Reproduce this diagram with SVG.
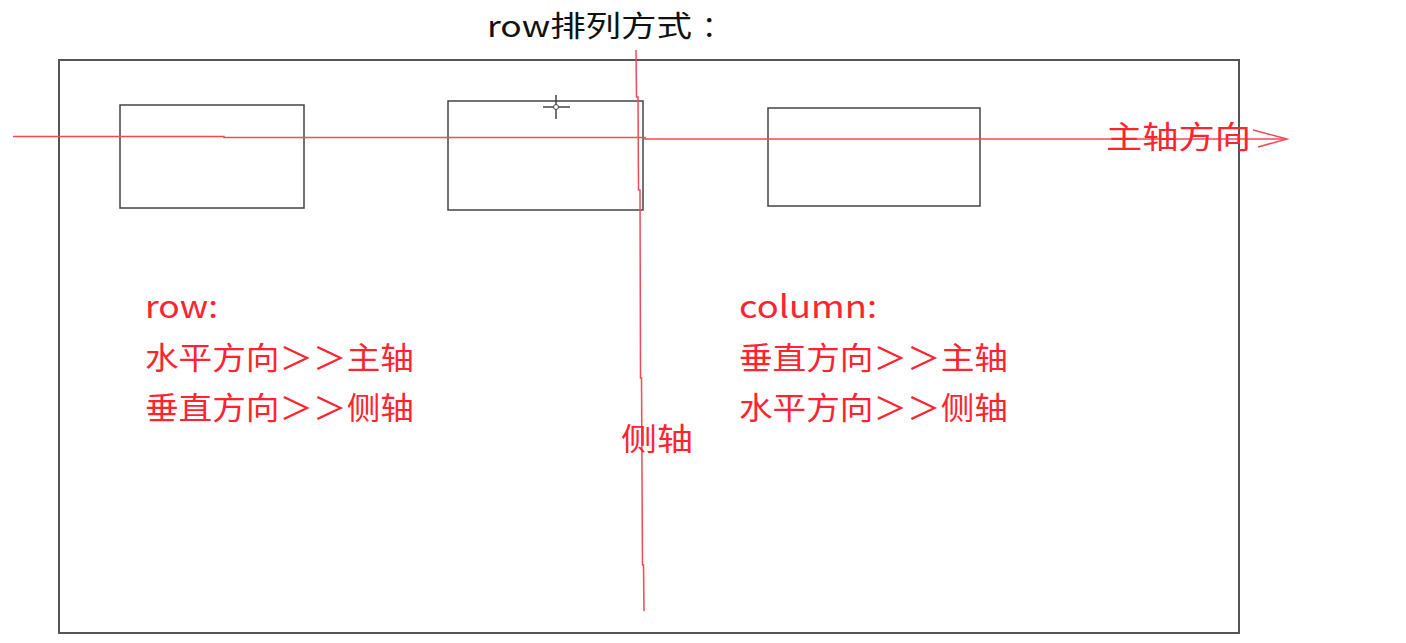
<svg xmlns="http://www.w3.org/2000/svg" width="1406" height="643" viewBox="0 0 1406 643">
  <style>
    .frame { fill: none; stroke: #555; stroke-width: 2; }
    .box { fill: none; stroke: #444; stroke-width: 1.5; }
    .axis { fill: none; stroke: #f24a55; stroke-width: 1.5; }
    .red { fill: #ff2430; font-family: "Noto Sans CJK SC", "Noto Sans", sans-serif; font-size: 31px; }
    .title { fill: #111; font-family: "Noto Sans CJK SC", "Noto Sans", sans-serif; font-size: 29px; }
    .cursor { fill: none; stroke: #444; stroke-width: 1.5; }
  </style>
  <rect x="0" y="0" width="1406" height="643" fill="#fff"/>

  <g id="title">
    <text class="title" y="37"><tspan x="487" textLength="205" lengthAdjust="spacingAndGlyphs">row排列方式</tspan><tspan x="702">：</tspan></text>
  </g>

  <g id="container">
    <rect class="frame" x="59" y="60" width="1180" height="573"/>
  </g>

  <g id="item1">
    <rect class="box" x="120" y="105" width="184" height="103"/>
  </g>
  <g id="item2">
    <rect class="box" x="448" y="101" width="195" height="109"/>
  </g>
  <g id="item3">
    <rect class="box" x="768" y="108" width="212" height="98"/>
  </g>

  <g id="cursor">
    <line class="cursor" x1="543" y1="107" x2="570" y2="107"/>
    <line class="cursor" x1="556" y1="95" x2="556" y2="119"/>
    <circle cx="556" cy="107" r="2.5" fill="#fff" stroke="#444" stroke-width="1"/>
  </g>

  <g id="connectors">
    <polyline class="axis" points="13,136.5 224,136.5 224,137.5 645,137.5 645,139 1285,139"/>
    <polyline class="axis" stroke-width="1.2" points="1253,130 1287,139 1258,147"/>
    <polyline class="axis" points="636,50 636.5,97 638,97 638.5,190 640,190 640.5,378 641.5,378 642.5,565 643.5,565 644,611"/>
  </g>

  <g id="main-axis-label">
    <text class="red" x="1106" y="148" textLength="145" lengthAdjust="spacingAndGlyphs">主轴方向</text>
  </g>
  <g id="cross-axis-label">
    <text class="red" x="621" y="450" textLength="72" lengthAdjust="spacingAndGlyphs">侧轴</text>
  </g>

  <g id="row-note">
    <text class="red" x="145" y="318" textLength="73" lengthAdjust="spacingAndGlyphs">row:</text>
    <text class="red" x="145" y="369" textLength="269" lengthAdjust="spacingAndGlyphs">水平方向＞＞主轴</text>
    <text class="red" x="145" y="419" textLength="269" lengthAdjust="spacingAndGlyphs">垂直方向＞＞侧轴</text>
  </g>
  <g id="column-note">
    <text class="red" x="739" y="318" textLength="138" lengthAdjust="spacingAndGlyphs">column:</text>
    <text class="red" x="739" y="369" textLength="269" lengthAdjust="spacingAndGlyphs">垂直方向＞＞主轴</text>
    <text class="red" x="739" y="419" textLength="269" lengthAdjust="spacingAndGlyphs">水平方向＞＞侧轴</text>
  </g>
</svg>
